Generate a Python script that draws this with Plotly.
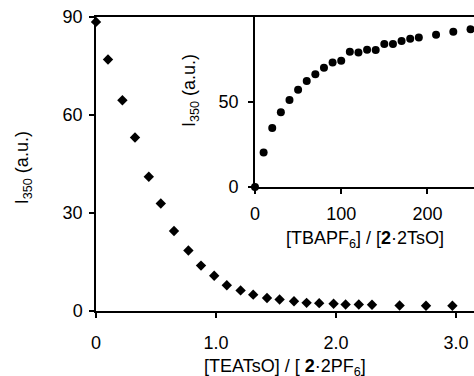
import plotly.graph_objects as go

# Main series: [TEATsO]/[2·2PF6] vs I350
main_x = [0.0, 0.10, 0.22, 0.325, 0.44, 0.54, 0.65, 0.77, 0.875, 0.985, 1.09, 1.205,
          1.31, 1.425, 1.53, 1.65, 1.755, 1.86, 1.98, 2.08, 2.19, 2.30, 2.53, 2.75, 2.97, 3.19]
main_y = [88.5, 77.0, 64.5, 53.1, 41.1, 32.9, 24.5, 18.5, 13.9, 10.8, 7.9, 6.3,
          5.0, 4.0, 3.5, 3.0, 2.5, 2.4, 2.2, 2.0, 2.0, 1.9, 1.7, 1.6, 1.6, 1.6]

# Inset series: [TBAPF6]/[2·2TsO] vs I350
inset_x = [0, 10, 20, 30, 40, 50, 60, 70, 80, 90, 100, 110, 120, 130, 140, 150,
           160, 170, 180, 190, 210, 230, 250]
inset_y = [0, 20.3, 34.7, 44.0, 51.2, 57.2, 62.4, 66.3, 70.2, 73.3, 74.2, 79.5, 79.1,
           80.8, 80.6, 84.1, 84.1, 85.9, 87.2, 88.0, 89.5, 91.3, 92.8]

main_ticks = [0, 1, 2, 3]
main_ticktext = ["0", "1.0", "2.0", "3.0"]
main_yticks = [0, 30, 60, 90]
inset_xticks = [0, 100, 200]
inset_yticks = [0, 50]

FONT = "Liberation Sans, Arial, sans-serif"
FS = 18

fig = go.Figure()
fig.add_trace(go.Scatter(x=main_x, y=main_y, mode="markers", cliponaxis=False,
                         marker=dict(symbol="diamond", size=8, color="black"),
                         xaxis="x", yaxis="y", showlegend=False))
fig.add_trace(go.Scatter(x=inset_x, y=inset_y, mode="markers", cliponaxis=False,
                         marker=dict(symbol="circle", size=8, color="black"),
                         xaxis="x2", yaxis="y2", showlegend=False))

axcommon = dict(showline=True, linecolor="black", linewidth=1.5, ticks="outside",
                ticklen=5, tickwidth=1.5, tickcolor="black", showgrid=False,
                zeroline=False, ticklabeloverflow="allow", automargin=False,
                tickfont=dict(family=FONT, size=FS, color="black"))

fig.update_layout(
    width=474, height=376,
    margin=dict(l=96, r=0, t=17, b=65, autoexpand=False),
    paper_bgcolor="white", plot_bgcolor="white",
    xaxis=dict(range=[0, 3.15], tickvals=main_ticks, ticktext=main_ticktext,
               mirror=True, ticklabelstandoff=10, domain=[0, 1], **axcommon),
    yaxis=dict(range=[0, 90], tickvals=main_yticks, ticklabelstandoff=3,
               domain=[0, 1], **axcommon),
    xaxis2=dict(range=[0, 254], tickvals=inset_xticks, anchor="y2",
                domain=[0.4206, 1], ticklabelstandoff=5, **axcommon),
    yaxis2=dict(range=[0, 100], tickvals=inset_yticks, anchor="x2",
                domain=[0.4218, 1], ticklabelstandoff=6, **axcommon),
    font=dict(family=FONT, size=FS, color="black"),
)

ann_font = dict(family=FONT, size=FS, color="black")
fig.add_annotation(text="[TEATsO] / [ <b>2</b>·2PF<sub>6</sub>]", xref="paper", yref="paper",
                   x=0.5, y=-0.193, xanchor="center", yanchor="middle",
                   showarrow=False, font=ann_font)
fig.add_annotation(text="I<sub>350</sub> (a.u.)", xref="paper", yref="paper",
                   x=-0.193, y=0.486, xanchor="center", yanchor="middle", textangle=-90,
                   showarrow=False, font=ann_font)
fig.add_annotation(text="[TBAPF<sub>6</sub>] / [<b>2</b>·2TsO]", xref="paper", yref="paper",
                   x=0.7116, y=0.2415, xanchor="center", yanchor="middle",
                   showarrow=False, font=ann_font)
fig.add_annotation(text="I<sub>350</sub> (a.u.)", xref="paper", yref="paper",
                   x=0.2487, y=0.748, xanchor="center", yanchor="middle", textangle=-90,
                   showarrow=False, font=ann_font)

fig.write_html(
    "out.html",
    config={"displayModeBar": False},
    post_script="document.body.style.margin='0';document.body.style.overflow='hidden';",
)
